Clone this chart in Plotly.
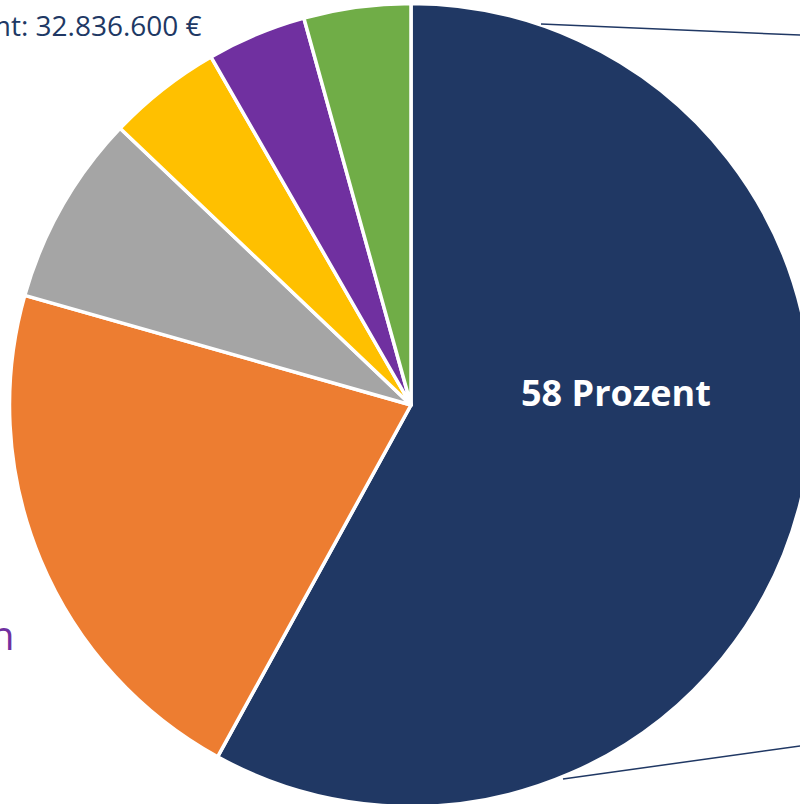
import plotly.graph_objects as go

# Data (percent shares)
categories = ["Anteil 1", "Anteil 2", "Anteil 3", "Anteil 4", "Anteil 5", "Anteil 6"]
values = [58.0, 21.4, 7.7, 4.6, 4.0, 4.3]
colors = ["#203864", "#ED7D31", "#A5A5A5", "#FFC000", "#7030A0", "#70AD47"]
total_text = "Gesamt: 32.836.600 €"
side_label = "n"

W, H = 830, 810
cx, cy, r = 411, 405, 401.5

def px(x):
    return x / W

def py(y):
    return 1 - y / H

fig = go.Figure(go.Pie(
    labels=categories,
    values=values,
    sort=False,
    direction="clockwise",
    rotation=0,
    textinfo="none",
    hoverinfo="label+percent",
    marker=dict(colors=colors, line=dict(color="white", width=3.5)),
    domain=dict(x=[px(cx - r), px(cx + r)], y=[py(cy + r), py(cy - r)]),
    showlegend=False,
))

fig.add_annotation(
    x=px(616), y=py(392), xref="paper", yref="paper",
    text=f"<b>{values[0]:.0f} Prozent</b>", showarrow=False,
    font=dict(family="Open Sans", size=36, color="white"),
    xanchor="center", yanchor="middle",
)
fig.add_annotation(
    x=px(204), y=py(25), xref="paper", yref="paper",
    text=total_text, showarrow=False,
    font=dict(family="Open Sans", size=28, color="#203864"),
    xanchor="right", yanchor="middle",
)
fig.add_annotation(
    x=px(17), y=py(634), xref="paper", yref="paper",
    text=side_label, showarrow=False,
    font=dict(family="Open Sans", size=40, color="#7030A0"),
    xanchor="right", yanchor="middle",
)

# leader lines towards the (cropped) secondary chart on the right
fig.add_shape(type="line", xref="paper", yref="paper",
              x0=px(541), y0=py(24), x1=px(830), y1=py(36.3),
              line=dict(color="#203864", width=1.5))
fig.add_shape(type="line", xref="paper", yref="paper",
              x0=px(563), y0=py(779), x1=px(830), y1=py(741.8),
              line=dict(color="#203864", width=1.5))

fig.update_layout(
    width=W, height=H,
    margin=dict(l=0, r=0, t=0, b=0),
    paper_bgcolor="white", plot_bgcolor="white",
)

fig.write_html(
    "out.html",
    config={"displayModeBar": False},
    post_script="document.documentElement.style.overflow='hidden';document.body.style.overflow='hidden';document.body.style.margin='0';",
)
